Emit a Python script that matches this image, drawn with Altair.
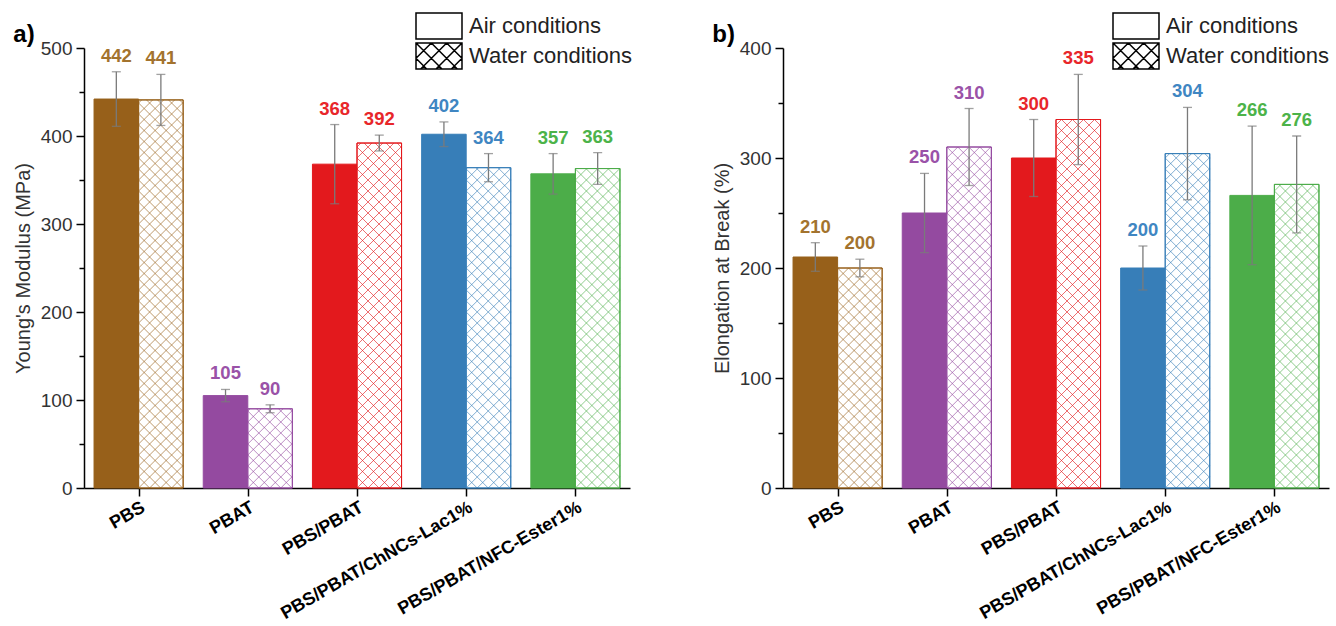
import json
import altair as alt
import pandas as pd

# ---------------- data ----------------
categories = ["PBS", "PBAT", "PBS/PBAT", "PBS/PBAT/ChNCs-Lac1%", "PBS/PBAT/NFC-Ester1%"]
conditions = ["Air conditions", "Water conditions"]
bar_colors = ["#97601A", "#944AA0", "#E3191D", "#377EB8", "#4CAD49"]
label_colors = ["#A3732E", "#9A52A8", "#E8262A", "#3F86C2", "#4CB349"]

modulus_air = [442, 105, 368, 402, 357]
modulus_air_err = [31, 7, 45, 14, 23]
modulus_water = [441, 90, 392, 364, 363]
modulus_water_err = [29, 4.5, 9, 16, 18]

elong_air = [210, 250, 300, 200, 266]
elong_air_err = [13, 36, 35, 20, 63]
elong_water = [200, 310, 335, 304, 276]
elong_water_err = [8, 35, 41, 42, 44]

# ---------------- layout / style ----------------
FONT = "Liberation Sans, Arial, sans-serif"
W, H = 546, 440
BAR = 0.408          # bar width in category units
HATCH = 11.0         # hatch period in px
SYM_H = 26.0         # legend box height (px)
SYM_W = 46.0         # legend box width (px)


def hatch_segments(x0, x1, y0, y1, step):
    """Clip two families of 45-degree lines to a rectangle."""
    w_, h_ = x1 - x0, y1 - y0
    segs = []
    k = -int(h_ // step)
    while k * step < w_:
        c = k * step
        if c > -h_:
            sx, sy = max(c, 0.0), max(-c, 0.0)
            t = min(w_, h_ + c)
            segs.append((x0 + sx, y0 + sy, x0 + t, y0 + t - c))
        k += 1
    k = 1
    while k * step < w_ + h_:
        c = k * step
        xs, xe = max(0.0, c - h_), min(w_, c)
        segs.append((x0 + xs, y0 + c - xs, x0 + xe, y0 + c - xe))
        k += 1
    return segs


def legend_paths():
    hw = SYM_W / SYM_H   # half-width in symbol units (height spans -1..1)
    rect = f"M{-hw:.3f},-1L{hw:.3f},-1L{hw:.3f},1L{-hw:.3f},1Z"
    hatch = ""
    for ax, ay, bx, by in hatch_segments(-hw, hw, -1, 1, 2 * hw / 3.0):
        hatch += f"M{ax:.3f},{ay:.3f}L{bx:.3f},{by:.3f}"
    return [rect, rect + hatch]


def panel(v_air, e_air, v_wat, e_wat, ymax, ytitle, tag, legx, legy):
    sx = W / 5.0
    sy = H / float(ymax)
    rows, hrows = [], []
    for i, cat in enumerate(categories):
        for j, (vals, errs) in enumerate([(v_air, e_air), (v_wat, e_wat)]):
            v, e = vals[i], errs[i]
            x0 = i - BAR if j == 0 else i
            x1 = i if j == 0 else i + BAR
            rows.append(dict(cat=cat, cond=conditions[j], x0=x0, x1=x1, xc=(x0 + x1) / 2,
                             value=v, base=0, lo=v - e, hi=v + e, label=f"{v:g}",
                             color=bar_colors[i],
                             fill=bar_colors[i] if j == 0 else "white",
                             lcolor=label_colors[i]))
            if j == 1:
                for ax, ay, bx, by in hatch_segments(0, BAR * sx, 0, v * sy, HATCH):
                    hrows.append(dict(x0=x0 + ax / sx, value=ay / sy, x1=x0 + bx / sx,
                                      hy2=by / sy, color=bar_colors[i]))
    df = pd.DataFrame(rows)
    dh = pd.DataFrame(hrows)

    xscale = alt.Scale(domain=[-0.5, 4.5], nice=False, zero=False)
    yscale = alt.Scale(domain=[0, ymax], nice=False)
    label_expr = json.dumps(categories) + "[datum.value]"
    xaxis = alt.Axis(values=[0, 1, 2, 3, 4], labelExpr=label_expr, labelAngle=-30,
                     labelFontSize=18, labelFontWeight="bold", labelColor="black",
                     labelFont=FONT, tickSize=8, tickWidth=1.5, tickColor="black",
                     domainColor="black", domainWidth=1.5, grid=False, title=None,
                     labelPadding=2, labelOverlap=False, labelLimit=400)
    yaxis = alt.Axis(values=list(range(0, ymax + 1, 50)),
                     labelExpr="datum.value % 100 == 0 ? datum.label : ''",
                     tickSize={"condition": {"test": "datum.value % 100 == 0", "value": 8},
                               "value": 5},
                     tickWidth=1.5, tickColor="black", domainColor="black", domainWidth=1.5,
                     labelFontSize=19, labelColor="#333", labelFont=FONT, labelPadding=4,
                     titleFontSize=20, titleColor="#333", titleFont=FONT,
                     titleFontWeight="normal", titlePadding=7, grid=False, title=ytitle)

    def X(field):
        return alt.X(field, type="quantitative", scale=xscale, axis=xaxis)

    def Y(field):
        return alt.Y(field, type="quantitative", scale=yscale, axis=yaxis)

    base = alt.Chart(df)
    bars = base.mark_rect(strokeWidth=1).encode(
        x=X("x0"), x2="x1", y=Y("value"), y2="base",
        fill=alt.Fill("fill:N", scale=None),
        stroke=alt.Stroke("color:N", scale=None),
    )
    hatch = alt.Chart(dh).mark_rule(strokeWidth=0.9, opacity=0.7).encode(
        x=X("x0"), x2="x1", y=Y("value"), y2="hy2",
        color=alt.Color("color:N", scale=None),
    )
    outline = base.transform_filter(alt.datum.cond == conditions[1]).mark_rect(
        fillOpacity=0, strokeWidth=1).encode(
        x=X("x0"), x2="x1", y=Y("value"), y2="base",
        stroke=alt.Stroke("color:N", scale=None),
    )
    err = base.mark_rule(color="#7a7a7a", strokeWidth=1.3).encode(
        x=X("xc"), y=Y("lo"), y2="hi",
    )
    cap_hi = base.mark_tick(orient="horizontal", color="#7a7a7a", size=9, thickness=1.3).encode(
        x=X("xc"), y=Y("hi"),
    )
    cap_lo = base.mark_tick(orient="horizontal", color="#7a7a7a", size=9, thickness=1.3).encode(
        x=X("xc"), y=Y("lo"),
    )
    labels = base.mark_text(fontSize=18.5, fontWeight="bold", font=FONT, dy=-16,
                            baseline="middle", align="center").encode(
        x=X("xc"), y=Y("hi"),
        text="label:N",
        color=alt.Color("lcolor:N", scale=None),
    )
    paths = legend_paths()
    overflow = (SYM_W - SYM_H) / 2.0
    leg = alt.Chart(pd.DataFrame({"cond": conditions})).transform_filter("false").mark_point(
        filled=False, color="black", strokeWidth=1.5, opacity=1).encode(
        shape=alt.Shape("cond:N", scale=alt.Scale(domain=conditions, range=paths),
                        legend=alt.Legend(title=None, orient="none",
                                          legendX=legx + overflow, legendY=legy,
                                          symbolSize=SYM_H * SYM_H, symbolFillColor="white",
                                          symbolStrokeColor="black", symbolStrokeWidth=1.5,
                                          symbolOpacity=1, labelFontSize=22, labelColor="#222",
                                          labelFont=FONT, labelOffset=6 + overflow,
                                          rowPadding=-3, labelLimit=400)),
    )
    return alt.layer(bars, hatch, outline, err, cap_hi, cap_lo, labels, leg).properties(
        width=W, height=H,
        title=alt.TitleParams(tag, anchor="start", frame="bounds", fontSize=24,
                              fontWeight="bold", font=FONT, color="black", offset=0, dy=35),
    )


pa = panel(modulus_air, modulus_air_err, modulus_water, modulus_water_err, 500,
           "Young's Modulus (MPa)", "a)", 331, -36)
pb = panel(elong_air, elong_air_err, elong_water, elong_water_err, 400,
           "Elongation at Break (%)", "b)", 329, -36)

chart = alt.hconcat(pa, pb, spacing=79).resolve_scale(
    shape="independent"
).resolve_legend(
    shape="independent"
).properties(
    padding={"left": 13, "top": 12, "right": 0, "bottom": 0}
).configure_view(stroke=None)

chart.save("out.html", embed_options={"renderer": "svg", "actions": False})
